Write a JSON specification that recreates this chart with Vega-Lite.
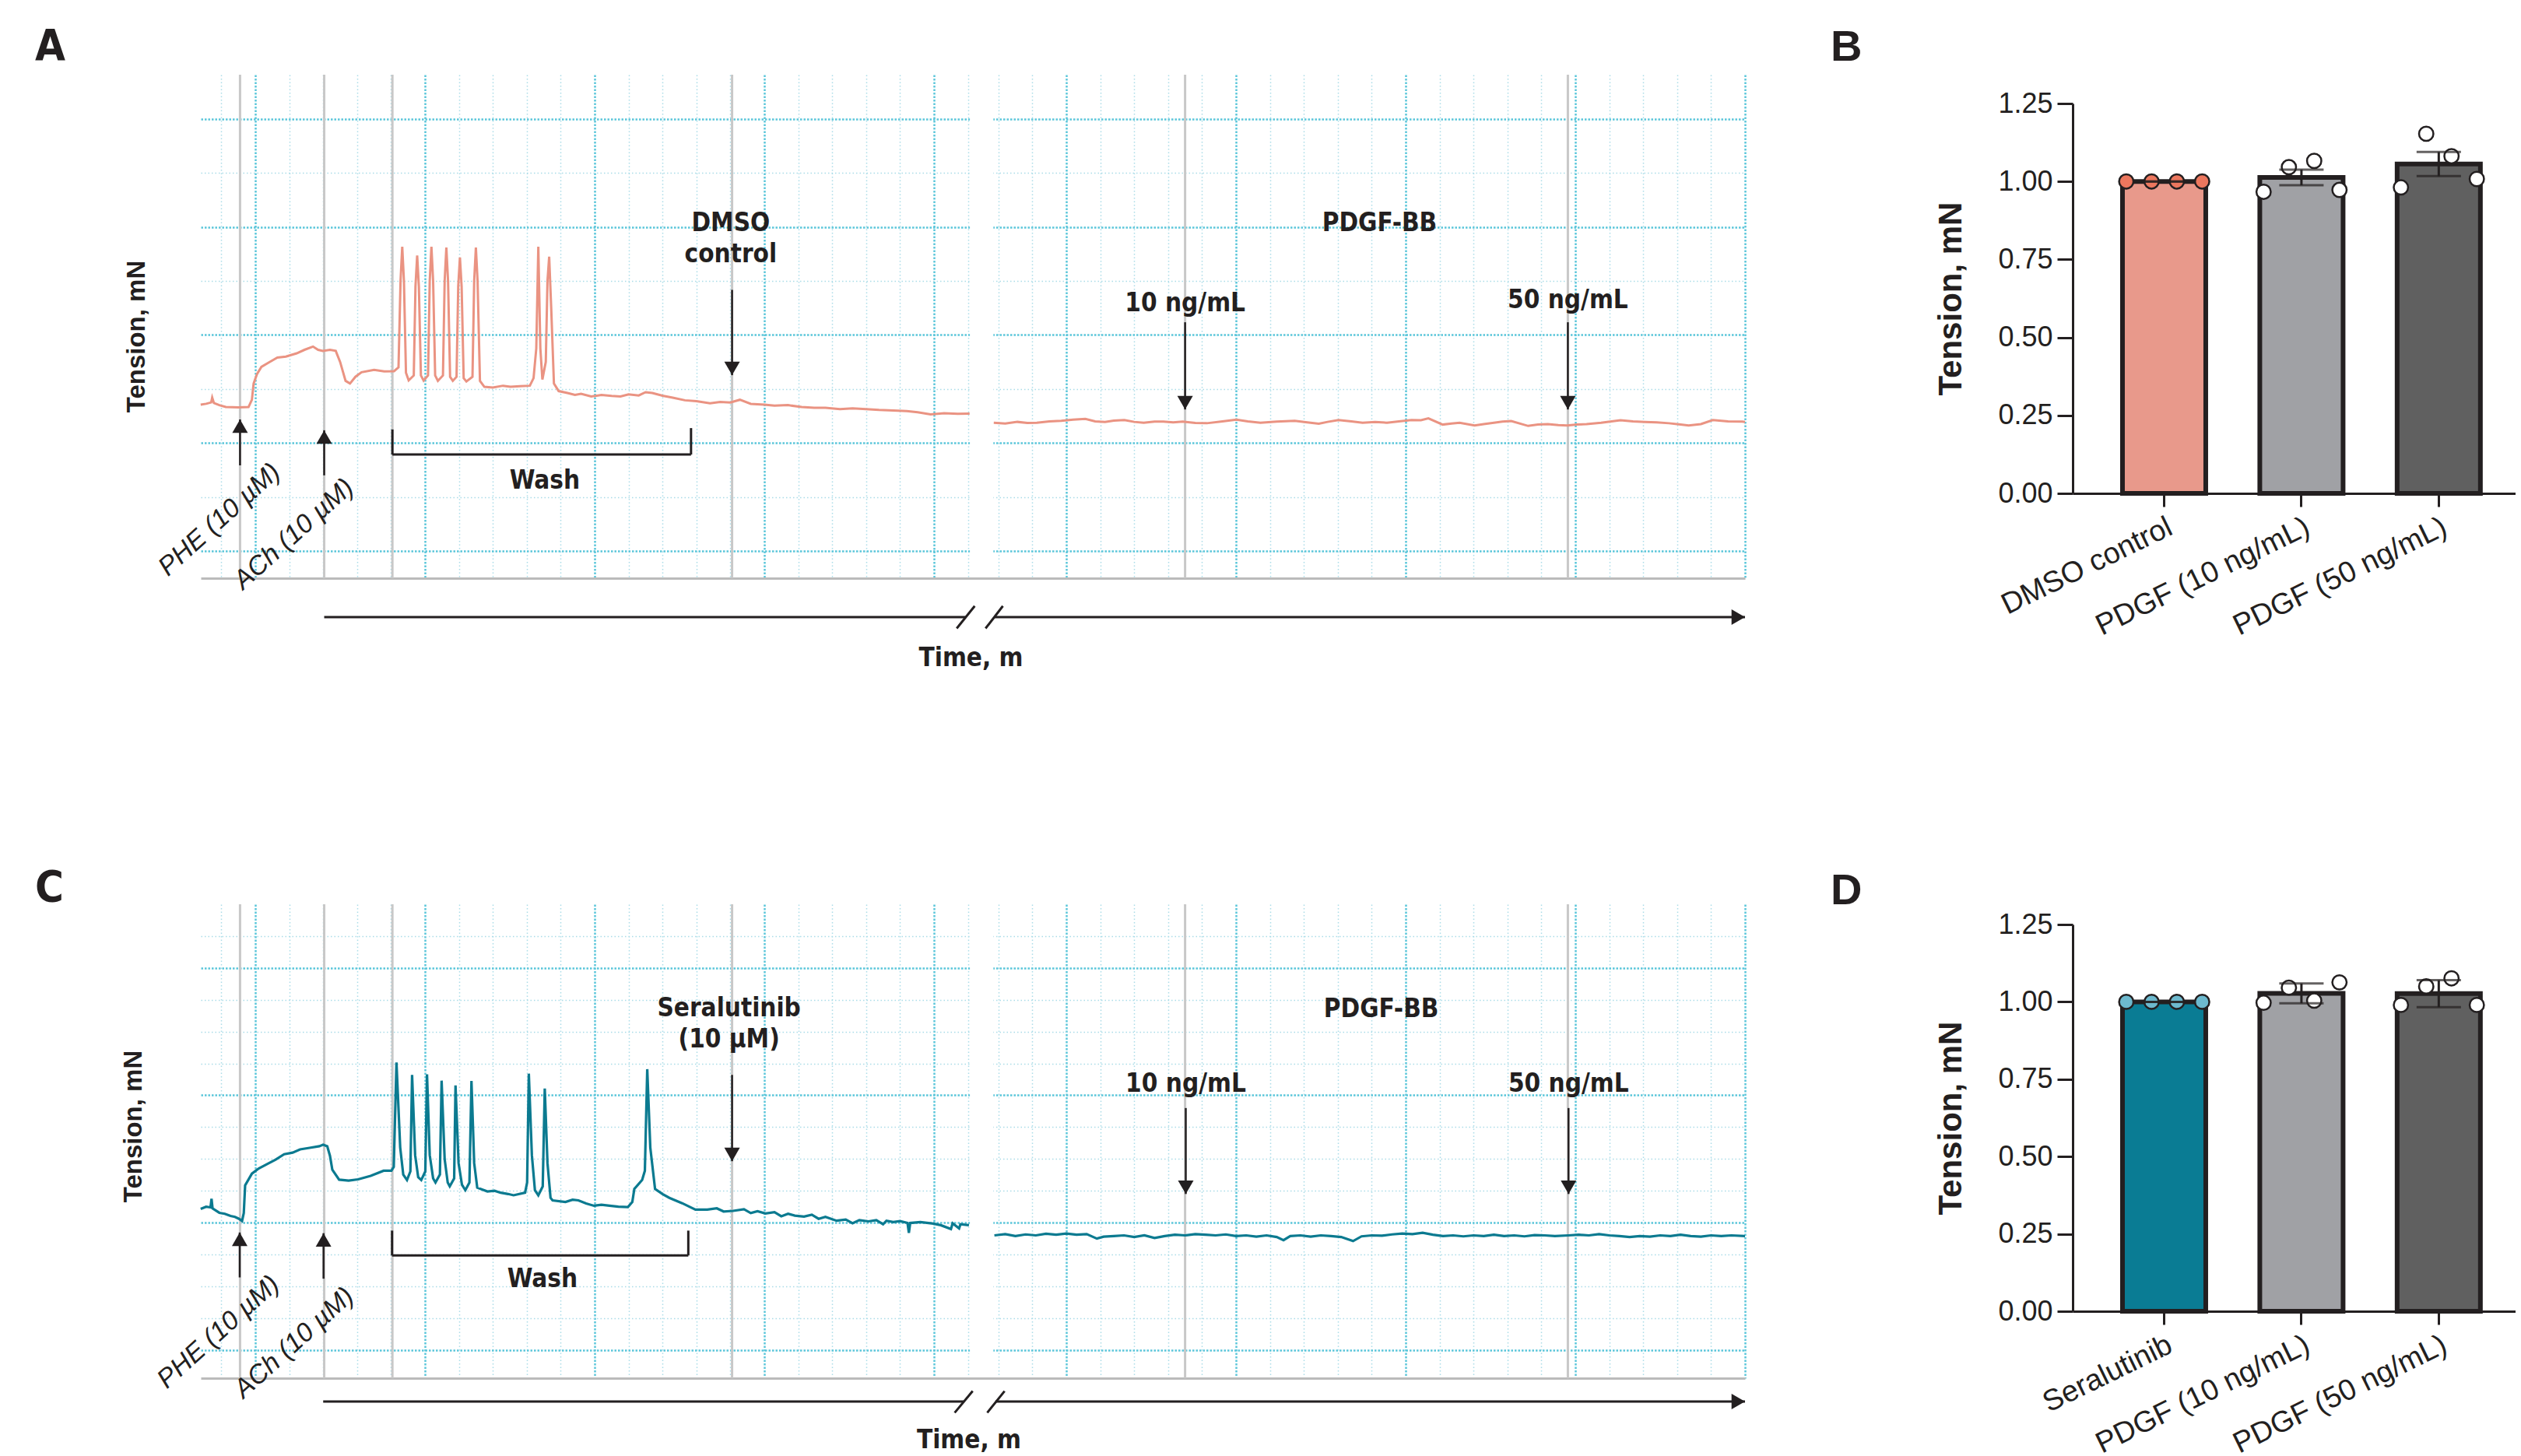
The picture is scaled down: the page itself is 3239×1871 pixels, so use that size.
{
"$schema": "https://vega.github.io/schema/vega-lite/v6.json",
"background": "#ffffff",
"padding": {"left": 45, "top": 31, "right": 0, "bottom": 0},
"config": {"view": {"stroke": null}, "axis": {"domainCap": "butt"}},
"datasets": {
"events": [{"time": -0.45}, {"time": 2.03}, {"time": 4.04}, {"time": 14.05}, {"time": 27.40}, {"time": 38.68}],
"breaks": [{"time": 21.06, "time2": 21.75}],
"traceA": [
{"seg":"L","time":-1.61,"tension":5.42},{"seg":"L","time":-1.45,"tension":5.45},{"seg":"L","time":-1.3,"tension":5.5},{"seg":"L","time":-1.27,"tension":5.68},{"seg":"L","time":-1.22,"tension":5.48},{"seg":"L","time":-1.06,"tension":5.40},{"seg":"L","time":-0.87,"tension":5.33},{"seg":"L","time":-0.5,"tension":5.32},{"seg":"L","time":-0.2,"tension":5.33},{"seg":"L","time":-0.1,"tension":5.6},{"seg":"L","time":-0.05,"tension":6.2},{"seg":"L","time":0.05,"tension":6.55},{"seg":"L","time":0.18,"tension":6.82},{"seg":"L","time":0.4,"tension":6.98},{"seg":"L","time":0.65,"tension":7.16},{"seg":"L","time":0.9,"tension":7.2},{"seg":"L","time":1.22,"tension":7.32},{"seg":"L","time":1.45,"tension":7.45},{"seg":"L","time":1.7,"tension":7.57},{"seg":"L","time":1.85,"tension":7.45},{"seg":"L","time":1.99,"tension":7.41},{"seg":"L","time":2.2,"tension":7.45},{"seg":"L","time":2.37,"tension":7.41},{"seg":"L","time":2.5,"tension":7.0},{"seg":"L","time":2.66,"tension":6.3},{"seg":"L","time":2.79,"tension":6.2},{"seg":"L","time":2.95,"tension":6.45},{"seg":"L","time":3.13,"tension":6.62},{"seg":"L","time":3.5,"tension":6.71},{"seg":"L","time":3.8,"tension":6.65},{"seg":"L","time":4.09,"tension":6.66},
{"seg":"L","time":4.22,"tension":6.8},{"seg":"L","time":4.28,"tension":10.0},{"seg":"L","time":4.33,"tension":11.27},{"seg":"L","time":4.38,"tension":10.0},{"seg":"L","time":4.44,"tension":6.6},{"seg":"L","time":4.52,"tension":6.32},
{"seg":"L","time":4.67,"tension":6.5},{"seg":"L","time":4.72,"tension":9.8},{"seg":"L","time":4.77,"tension":10.94},{"seg":"L","time":4.82,"tension":9.8},{"seg":"L","time":4.88,"tension":6.5},{"seg":"L","time":4.96,"tension":6.31},
{"seg":"L","time":5.09,"tension":6.5},{"seg":"L","time":5.14,"tension":10.0},{"seg":"L","time":5.19,"tension":11.27},{"seg":"L","time":5.24,"tension":10.0},{"seg":"L","time":5.3,"tension":6.5},{"seg":"L","time":5.38,"tension":6.3},
{"seg":"L","time":5.53,"tension":6.5},{"seg":"L","time":5.58,"tension":10.0},{"seg":"L","time":5.63,"tension":11.24},{"seg":"L","time":5.68,"tension":10.0},{"seg":"L","time":5.74,"tension":6.45},{"seg":"L","time":5.82,"tension":6.3},
{"seg":"L","time":5.93,"tension":6.45},{"seg":"L","time":5.98,"tension":9.8},{"seg":"L","time":6.03,"tension":10.87},{"seg":"L","time":6.08,"tension":9.8},{"seg":"L","time":6.14,"tension":6.4},{"seg":"L","time":6.22,"tension":6.28},
{"seg":"L","time":6.4,"tension":6.45},{"seg":"L","time":6.45,"tension":10.0},{"seg":"L","time":6.5,"tension":11.24},{"seg":"L","time":6.55,"tension":10.0},{"seg":"L","time":6.62,"tension":6.3},{"seg":"L","time":6.75,"tension":6.08},
{"seg":"L","time":7.0,"tension":6.05},{"seg":"L","time":7.3,"tension":6.12},{"seg":"L","time":7.52,"tension":6.08},{"seg":"L","time":7.8,"tension":6.1},{"seg":"L","time":8.09,"tension":6.12},{"seg":"L","time":8.2,"tension":6.4},
{"seg":"L","time":8.28,"tension":7.5},{"seg":"L","time":8.34,"tension":11.27},{"seg":"L","time":8.4,"tension":7.5},{"seg":"L","time":8.46,"tension":6.35},{"seg":"L","time":8.56,"tension":7.0},{"seg":"L","time":8.61,"tension":10.0},{"seg":"L","time":8.66,"tension":10.9},{"seg":"L","time":8.72,"tension":9.0},{"seg":"L","time":8.8,"tension":6.2},{"seg":"L","time":8.94,"tension":5.92},
{"seg":"L","time":9.2,"tension":5.85},{"seg":"L","time":9.42,"tension":5.78},{"seg":"L","time":9.6,"tension":5.82},{"seg":"L","time":9.9,"tension":5.72},{"seg":"L","time":10.2,"tension":5.78},{"seg":"L","time":10.5,"tension":5.74},{"seg":"L","time":10.76,"tension":5.72},{"seg":"L","time":11.0,"tension":5.8},{"seg":"L","time":11.3,"tension":5.76},{"seg":"L","time":11.5,"tension":5.88},{"seg":"L","time":11.7,"tension":5.85},{"seg":"L","time":12.0,"tension":5.75},{"seg":"L","time":12.3,"tension":5.68},{"seg":"L","time":12.66,"tension":5.58},{"seg":"L","time":13.0,"tension":5.55},{"seg":"L","time":13.4,"tension":5.47},{"seg":"L","time":13.7,"tension":5.52},{"seg":"L","time":14.0,"tension":5.5},{"seg":"L","time":14.28,"tension":5.6},{"seg":"L","time":14.6,"tension":5.45},{"seg":"L","time":15.0,"tension":5.42},{"seg":"L","time":15.3,"tension":5.38},{"seg":"L","time":15.7,"tension":5.4},{"seg":"L","time":16.1,"tension":5.33},{"seg":"L","time":16.47,"tension":5.3},{"seg":"L","time":16.8,"tension":5.3},{"seg":"L","time":17.23,"tension":5.25},{"seg":"L","time":17.6,"tension":5.28},{"seg":"L","time":18.0,"tension":5.25},{"seg":"L","time":18.38,"tension":5.22},{"seg":"L","time":18.8,"tension":5.2},{"seg":"L","time":19.2,"tension":5.18},{"seg":"L","time":19.52,"tension":5.14},{"seg":"L","time":19.9,"tension":5.06},{"seg":"L","time":20.3,"tension":5.1},{"seg":"L","time":20.7,"tension":5.08},{"seg":"L","time":21.05,"tension":5.09},
{"seg":"R","time":21.76,"tension":4.75},{"seg":"R","time":22.1,"tension":4.72},{"seg":"R","time":22.46,"tension":4.78},{"seg":"R","time":22.75,"tension":4.74},{"seg":"R","time":23.03,"tension":4.75},{"seg":"R","time":23.4,"tension":4.8},{"seg":"R","time":23.75,"tension":4.82},{"seg":"R","time":24.1,"tension":4.86},{"seg":"R","time":24.46,"tension":4.89},{"seg":"R","time":24.75,"tension":4.8},{"seg":"R","time":25.04,"tension":4.78},{"seg":"R","time":25.3,"tension":4.83},{"seg":"R","time":25.61,"tension":4.85},{"seg":"R","time":25.9,"tension":4.78},{"seg":"R","time":26.18,"tension":4.75},{"seg":"R","time":26.5,"tension":4.79},{"seg":"R","time":26.76,"tension":4.79},{"seg":"R","time":27.05,"tension":4.76},{"seg":"R","time":27.33,"tension":4.79},{"seg":"R","time":27.7,"tension":4.74},{"seg":"R","time":28.04,"tension":4.73},{"seg":"R","time":28.5,"tension":4.8},{"seg":"R","time":28.91,"tension":4.86},{"seg":"R","time":29.25,"tension":4.8},{"seg":"R","time":29.62,"tension":4.75},{"seg":"R","time":30.1,"tension":4.79},{"seg":"R","time":30.63,"tension":4.82},{"seg":"R","time":31.0,"tension":4.76},{"seg":"R","time":31.34,"tension":4.71},{"seg":"R","time":31.6,"tension":4.78},{"seg":"R","time":31.92,"tension":4.85},{"seg":"R","time":32.3,"tension":4.8},{"seg":"R","time":32.63,"tension":4.75},{"seg":"R","time":33.0,"tension":4.78},{"seg":"R","time":33.35,"tension":4.75},{"seg":"R","time":33.7,"tension":4.8},{"seg":"R","time":34.07,"tension":4.85},{"seg":"R","time":34.35,"tension":4.84},{"seg":"R","time":34.57,"tension":4.91},{"seg":"R","time":34.99,"tension":4.68},{"seg":"R","time":35.25,"tension":4.72},{"seg":"R","time":35.49,"tension":4.75},{"seg":"R","time":35.93,"tension":4.65},{"seg":"R","time":36.2,"tension":4.7},{"seg":"R","time":36.5,"tension":4.75},{"seg":"R","time":36.75,"tension":4.79},{"seg":"R","time":37.01,"tension":4.81},{"seg":"R","time":37.51,"tension":4.63},{"seg":"R","time":37.8,"tension":4.68},{"seg":"R","time":38.09,"tension":4.7},{"seg":"R","time":38.4,"tension":4.66},{"seg":"R","time":38.66,"tension":4.65},{"seg":"R","time":38.95,"tension":4.68},{"seg":"R","time":39.23,"tension":4.7},{"seg":"R","time":39.66,"tension":4.75},{"seg":"R","time":40.23,"tension":4.84},{"seg":"R","time":40.6,"tension":4.8},{"seg":"R","time":40.95,"tension":4.78},{"seg":"R","time":41.3,"tension":4.76},{"seg":"R","time":41.66,"tension":4.73},{"seg":"R","time":42.0,"tension":4.68},{"seg":"R","time":42.24,"tension":4.65},{"seg":"R","time":42.6,"tension":4.7},{"seg":"R","time":42.95,"tension":4.85},{"seg":"R","time":43.4,"tension":4.8},{"seg":"R","time":43.82,"tension":4.79},{"seg":"R","time":43.9,"tension":4.78}
],
"traceC": [
{"seg":"L","time":-1.61,"tension":4.43},{"seg":"L","time":-1.45,"tension":4.5},{"seg":"L","time":-1.32,"tension":4.48},{"seg":"L","time":-1.29,"tension":4.75},{"seg":"L","time":-1.26,"tension":4.45},{"seg":"L","time":-1.06,"tension":4.31},{"seg":"L","time":-0.9,"tension":4.28},{"seg":"L","time":-0.73,"tension":4.21},{"seg":"L","time":-0.6,"tension":4.18},{"seg":"L","time":-0.48,"tension":4.12},{"seg":"L","time":-0.39,"tension":4.05},{"seg":"L","time":-0.34,"tension":4.3},{"seg":"L","time":-0.3,"tension":5.17},{"seg":"L","time":-0.1,"tension":5.54},{"seg":"L","time":0.1,"tension":5.7},{"seg":"L","time":0.37,"tension":5.85},{"seg":"L","time":0.6,"tension":5.98},{"seg":"L","time":0.85,"tension":6.15},{"seg":"L","time":1.1,"tension":6.2},{"seg":"L","time":1.32,"tension":6.3},{"seg":"L","time":1.6,"tension":6.35},{"seg":"L","time":1.89,"tension":6.4},{"seg":"L","time":2.0,"tension":6.45},{"seg":"L","time":2.12,"tension":6.4},{"seg":"L","time":2.2,"tension":6.1},{"seg":"L","time":2.27,"tension":5.66},{"seg":"L","time":2.47,"tension":5.35},{"seg":"L","time":2.75,"tension":5.32},{"seg":"L","time":3.03,"tension":5.36},{"seg":"L","time":3.4,"tension":5.47},{"seg":"L","time":3.78,"tension":5.63},{"seg":"L","time":4.01,"tension":5.63},
{"seg":"L","time":4.08,"tension":5.75},{"seg":"L","time":4.16,"tension":9.03},{"seg":"L","time":4.27,"tension":6.36},{"seg":"L","time":4.36,"tension":5.51},{"seg":"L","time":4.47,"tension":5.34},
{"seg":"L","time":4.57,"tension":5.61},{"seg":"L","time":4.62,"tension":8.64},{"seg":"L","time":4.71,"tension":6.12},{"seg":"L","time":4.8,"tension":5.43},{"seg":"L","time":4.89,"tension":5.34},
{"seg":"L","time":5.01,"tension":5.61},{"seg":"L","time":5.06,"tension":8.66},{"seg":"L","time":5.14,"tension":6.12},{"seg":"L","time":5.24,"tension":5.39},{"seg":"L","time":5.31,"tension":5.26},
{"seg":"L","time":5.44,"tension":5.51},{"seg":"L","time":5.49,"tension":8.46},{"seg":"L","time":5.58,"tension":5.99},{"seg":"L","time":5.67,"tension":5.26},{"seg":"L","time":5.73,"tension":5.14},
{"seg":"L","time":5.86,"tension":5.39},{"seg":"L","time":5.9,"tension":8.31},{"seg":"L","time":5.99,"tension":5.87},{"seg":"L","time":6.09,"tension":5.19},{"seg":"L","time":6.19,"tension":5.02},
{"seg":"L","time":6.31,"tension":5.26},{"seg":"L","time":6.37,"tension":8.45},{"seg":"L","time":6.45,"tension":5.87},{"seg":"L","time":6.54,"tension":5.1},
{"seg":"L","time":6.84,"tension":4.98},{"seg":"L","time":7.05,"tension":5.0},{"seg":"L","time":7.23,"tension":4.94},{"seg":"L","time":7.45,"tension":4.9},{"seg":"L","time":7.61,"tension":4.86},{"seg":"L","time":7.95,"tension":4.94},
{"seg":"L","time":8.01,"tension":5.26},{"seg":"L","time":8.06,"tension":8.68},{"seg":"L","time":8.15,"tension":6.12},{"seg":"L","time":8.24,"tension":5.02},{"seg":"L","time":8.34,"tension":4.86},
{"seg":"L","time":8.47,"tension":5.14},{"seg":"L","time":8.53,"tension":8.21},{"seg":"L","time":8.61,"tension":5.87},{"seg":"L","time":8.7,"tension":4.78},{"seg":"L","time":8.76,"tension":4.7},
{"seg":"L","time":9.14,"tension":4.65},{"seg":"L","time":9.35,"tension":4.72},{"seg":"L","time":9.52,"tension":4.7},{"seg":"L","time":9.75,"tension":4.6},{"seg":"L","time":9.98,"tension":4.53},{"seg":"L","time":10.2,"tension":4.56},{"seg":"L","time":10.44,"tension":4.53},{"seg":"L","time":10.7,"tension":4.5},{"seg":"L","time":10.98,"tension":4.49},
{"seg":"L","time":11.11,"tension":4.65},{"seg":"L","time":11.17,"tension":5.06},{"seg":"L","time":11.4,"tension":5.34},{"seg":"L","time":11.48,"tension":5.63},{"seg":"L","time":11.55,"tension":8.82},{"seg":"L","time":11.64,"tension":6.36},{"seg":"L","time":11.78,"tension":5.06},{"seg":"L","time":12.0,"tension":4.9},{"seg":"L","time":12.2,"tension":4.78},{"seg":"L","time":12.58,"tension":4.61},{"seg":"L","time":12.97,"tension":4.41},
{"seg":"L","time":13.32,"tension":4.41},{"seg":"L","time":13.6,"tension":4.45},{"seg":"L","time":13.8,"tension":4.35},{"seg":"L","time":14.08,"tension":4.37},{"seg":"L","time":14.4,"tension":4.42},{"seg":"L","time":14.6,"tension":4.3},{"seg":"L","time":14.8,"tension":4.36},{"seg":"L","time":15.03,"tension":4.29},{"seg":"L","time":15.3,"tension":4.33},{"seg":"L","time":15.5,"tension":4.2},{"seg":"L","time":15.7,"tension":4.28},{"seg":"L","time":15.9,"tension":4.22},{"seg":"L","time":16.17,"tension":4.19},{"seg":"L","time":16.4,"tension":4.25},{"seg":"L","time":16.6,"tension":4.12},{"seg":"L","time":16.8,"tension":4.18},{"seg":"L","time":17.13,"tension":4.06},{"seg":"L","time":17.4,"tension":4.1},{"seg":"L","time":17.6,"tension":3.98},{"seg":"L","time":17.8,"tension":4.08},{"seg":"L","time":18.07,"tension":4.04},{"seg":"L","time":18.3,"tension":4.08},{"seg":"L","time":18.5,"tension":3.95},{"seg":"L","time":18.6,"tension":4.06},{"seg":"L","time":18.8,"tension":4.02},{"seg":"L","time":19.0,"tension":4.05},{"seg":"L","time":19.22,"tension":3.99},{"seg":"L","time":19.26,"tension":3.68},{"seg":"L","time":19.3,"tension":3.99},{"seg":"L","time":19.6,"tension":4.02},{"seg":"L","time":19.98,"tension":3.97},{"seg":"L","time":20.2,"tension":3.92},{"seg":"L","time":20.5,"tension":3.8},{"seg":"L","time":20.55,"tension":3.98},{"seg":"L","time":20.74,"tension":3.82},{"seg":"L","time":20.78,"tension":3.95},{"seg":"L","time":21.03,"tension":3.92},
{"seg":"R","time":21.78,"tension":3.6},{"seg":"R","time":22.1,"tension":3.64},{"seg":"R","time":22.4,"tension":3.58},{"seg":"R","time":22.7,"tension":3.63},{"seg":"R","time":23.0,"tension":3.6},{"seg":"R","time":23.3,"tension":3.65},{"seg":"R","time":23.6,"tension":3.62},{"seg":"R","time":23.9,"tension":3.66},{"seg":"R","time":24.2,"tension":3.62},{"seg":"R","time":24.5,"tension":3.64},{"seg":"R","time":24.8,"tension":3.5},{"seg":"R","time":25.0,"tension":3.56},{"seg":"R","time":25.3,"tension":3.58},{"seg":"R","time":25.6,"tension":3.6},{"seg":"R","time":25.9,"tension":3.55},{"seg":"R","time":26.2,"tension":3.6},{"seg":"R","time":26.5,"tension":3.52},{"seg":"R","time":26.8,"tension":3.58},{"seg":"R","time":27.1,"tension":3.62},{"seg":"R","time":27.4,"tension":3.6},{"seg":"R","time":27.7,"tension":3.64},{"seg":"R","time":28.0,"tension":3.62},{"seg":"R","time":28.3,"tension":3.6},{"seg":"R","time":28.6,"tension":3.63},{"seg":"R","time":28.9,"tension":3.58},{"seg":"R","time":29.2,"tension":3.6},{"seg":"R","time":29.5,"tension":3.56},{"seg":"R","time":29.8,"tension":3.6},{"seg":"R","time":30.1,"tension":3.55},{"seg":"R","time":30.3,"tension":3.45},{"seg":"R","time":30.5,"tension":3.58},{"seg":"R","time":30.8,"tension":3.6},{"seg":"R","time":31.1,"tension":3.56},{"seg":"R","time":31.4,"tension":3.6},{"seg":"R","time":31.7,"tension":3.58},{"seg":"R","time":32.0,"tension":3.55},{"seg":"R","time":32.35,"tension":3.42},{"seg":"R","time":32.6,"tension":3.57},{"seg":"R","time":32.9,"tension":3.6},{"seg":"R","time":33.2,"tension":3.59},{"seg":"R","time":33.5,"tension":3.63},{"seg":"R","time":33.8,"tension":3.66},{"seg":"R","time":34.1,"tension":3.64},{"seg":"R","time":34.4,"tension":3.68},{"seg":"R","time":34.7,"tension":3.62},{"seg":"R","time":35.0,"tension":3.58},{"seg":"R","time":35.3,"tension":3.6},{"seg":"R","time":35.6,"tension":3.57},{"seg":"R","time":35.9,"tension":3.6},{"seg":"R","time":36.2,"tension":3.58},{"seg":"R","time":36.5,"tension":3.62},{"seg":"R","time":36.8,"tension":3.58},{"seg":"R","time":37.1,"tension":3.6},{"seg":"R","time":37.4,"tension":3.57},{"seg":"R","time":37.7,"tension":3.61},{"seg":"R","time":38.0,"tension":3.6},{"seg":"R","time":38.3,"tension":3.58},{"seg":"R","time":38.7,"tension":3.6},{"seg":"R","time":39.0,"tension":3.62},{"seg":"R","time":39.3,"tension":3.6},{"seg":"R","time":39.6,"tension":3.64},{"seg":"R","time":39.9,"tension":3.6},{"seg":"R","time":40.2,"tension":3.58},{"seg":"R","time":40.5,"tension":3.55},{"seg":"R","time":40.8,"tension":3.58},{"seg":"R","time":41.1,"tension":3.56},{"seg":"R","time":41.4,"tension":3.6},{"seg":"R","time":41.7,"tension":3.58},{"seg":"R","time":42.0,"tension":3.62},{"seg":"R","time":42.3,"tension":3.58},{"seg":"R","time":42.6,"tension":3.56},{"seg":"R","time":42.9,"tension":3.6},{"seg":"R","time":43.2,"tension":3.58},{"seg":"R","time":43.5,"tension":3.6},{"seg":"R","time":43.9,"tension":3.58}
],
"arrowsA": [{"time": -0.45, "tail": 3.17, "tip": 4.87, "dir": "up"}, {"time": 2.03, "tail": 2.80, "tip": 4.47, "dir": "up"}, {"time": 14.05, "tail": 9.67, "tip": 6.51, "dir": "down"}, {"time": 27.40, "tail": 8.47, "tip": 5.24, "dir": "down"}, {"time": 38.68, "tail": 8.47, "tip": 5.24, "dir": "down"}],
"arrowsC": [{"time": -0.46, "tail": 2.28, "tip": 3.69, "dir": "up"}, {"time": 2.01, "tail": 2.24, "tip": 3.67, "dir": "up"}, {"time": 14.05, "tail": 8.64, "tip": 5.93, "dir": "down"}, {"time": 27.42, "tail": 7.6, "tip": 4.9, "dir": "down"}, {"time": 38.70, "tail": 7.6, "tip": 4.9, "dir": "down"}],
"labelsA": [{"time": 14.01, "tension": 11.85, "label": "DMSO\ncontrol"}, {"time": 8.53, "tension": 2.31, "label": "Wash"}, {"time": 21.09, "tension": -4.27, "label": "Time, m"}, {"time": 33.13, "tension": 11.84, "label": "PDGF-BB"}, {"time": 27.40, "tension": 8.88, "label": "10 ng/mL"}, {"time": 38.68, "tension": 8.99, "label": "50 ng/mL"}],
"labelsC": [{"time": 13.96, "tension": 10.48, "label": "Seralutinib\n(10 µM)"}, {"time": 8.46, "tension": 1.97, "label": "Wash"}, {"time": 21.03, "tension": -3.08, "label": "Time, m"}, {"time": 33.18, "tension": 10.45, "label": "PDGF-BB"}, {"time": 27.42, "tension": 8.1, "label": "10 ng/mL"}, {"time": 38.70, "tension": 8.1, "label": "50 ng/mL"}],
"drugsA": [{"time": 0.63, "tension": 3.05, "label": "PHE (10 µM)"}, {"time": 2.79, "tension": 2.48, "label": "ACh (10 µM)"}],
"drugsC": [{"time": 0.6, "tension": 2.17, "label": "PHE (10 µM)"}, {"time": 2.8, "tension": 1.8, "label": "ACh (10 µM)"}],
"segmentsA": [{"time": 4.04, "time2": 12.84, "tension": 3.57, "tension2": 3.57}, {"time": 4.04, "time2": 4.04, "tension": 3.57, "tension2": 4.5}, {"time": 12.84, "time2": 12.84, "tension": 3.57, "tension2": 4.55}, {"time": 2.03, "time2": 20.93, "tension": -2.45, "tension2": -2.45}, {"time": 20.67, "time2": 21.2, "tension": -2.87, "tension2": -2.04}, {"time": 21.52, "time2": 22.03, "tension": -2.87, "tension2": -2.04}, {"time": 21.78, "time2": 43.9, "tension": -2.45, "tension2": -2.45}],
"segmentsC": [{"time": 4.03, "time2": 12.76, "tension": 2.97, "tension2": 2.97}, {"time": 4.03, "time2": 4.03, "tension": 2.97, "tension2": 3.75}, {"time": 12.76, "time2": 12.76, "tension": 2.97, "tension2": 3.75}, {"time": 2.0, "time2": 20.87, "tension": -1.62, "tension2": -1.62}, {"time": 20.61, "time2": 21.14, "tension": -1.97, "tension2": -1.29}, {"time": 21.57, "time2": 22.08, "tension": -1.97, "tension2": -1.29}, {"time": 21.81, "time2": 43.9, "tension": -1.62, "tension2": -1.62}],
"headA": [{"time": 43.9, "tension": -2.45}],
"headC": [{"time": 43.9, "tension": -1.62}],
"barsB": [
{"group": "DMSO control", "rep": "1", "tension": 1.0}, {"group": "DMSO control", "rep": "2", "tension": 1.0}, {"group": "DMSO control", "rep": "3", "tension": 1.0}, {"group": "DMSO control", "rep": "4", "tension": 1.0},
{"group": "PDGF (10 ng/mL)", "rep": "1", "tension": 0.967}, {"group": "PDGF (10 ng/mL)", "rep": "2", "tension": 1.046}, {"group": "PDGF (10 ng/mL)", "rep": "3", "tension": 1.066}, {"group": "PDGF (10 ng/mL)", "rep": "4", "tension": 0.973},
{"group": "PDGF (50 ng/mL)", "rep": "1", "tension": 0.981}, {"group": "PDGF (50 ng/mL)", "rep": "2", "tension": 1.153}, {"group": "PDGF (50 ng/mL)", "rep": "3", "tension": 1.081}, {"group": "PDGF (50 ng/mL)", "rep": "4", "tension": 1.008}
],
"barsD": [
{"group": "Seralutinib", "rep": "1", "tension": 1.0}, {"group": "Seralutinib", "rep": "2", "tension": 1.0}, {"group": "Seralutinib", "rep": "3", "tension": 1.0}, {"group": "Seralutinib", "rep": "4", "tension": 1.0},
{"group": "PDGF (10 ng/mL)", "rep": "1", "tension": 0.997}, {"group": "PDGF (10 ng/mL)", "rep": "2", "tension": 1.046}, {"group": "PDGF (10 ng/mL)", "rep": "3", "tension": 1.004}, {"group": "PDGF (10 ng/mL)", "rep": "4", "tension": 1.063},
{"group": "PDGF (50 ng/mL)", "rep": "1", "tension": 0.99}, {"group": "PDGF (50 ng/mL)", "rep": "2", "tension": 1.05}, {"group": "PDGF (50 ng/mL)", "rep": "3", "tension": 1.076}, {"group": "PDGF (50 ng/mL)", "rep": "4", "tension": 0.99}
]
},
"hconcat": [
{
"vconcat": [
{
"width": 1984, "height": 647,
"title": {"text": "A", "anchor": "start", "frame": "group", "font": "Liberation Sans Narrow, DejaVu Sans Condensed, sans-serif", "fontSize": 56, "fontWeight": "bold", "color": "#231F20", "dx": -213, "dy": 38, "offset": 0, "baseline": "alphabetic"},
"layer": [
{"data": {"name": "events"}, "mark": {"type": "rule", "color": "#C8C8C8", "strokeWidth": 3},
 "encoding": {"x": {"field": "time", "type": "quantitative", "scale": {"domain": [-1.606, 43.9], "nice": false, "zero": false},
  "axis": {"values": [-1,0,1,2,3,4,5,6,7,8,9,10,11,12,13,14,15,16,17,18,19,20,21,21.9,22.9,23.9,24.9,25.9,26.9,27.9,28.9,29.9,30.9,31.9,32.9,33.9,34.9,35.9,36.9,37.9,38.9,39.9,40.9,41.9,42.9,43.9],
   "grid": true,
   "gridColor": {"condition": {"test": "indexof([0,5,10,15,20,23.9,28.9,33.9,38.9,43.9], datum.value) >= 0", "value": "#5BC6DA"}, "value": "#AADCE8"},
   "gridDash": {"condition": {"test": "indexof([0,5,10,15,20,23.9,28.9,33.9,38.9,43.9], datum.value) >= 0", "value": [2.5, 2]}, "value": [1.5, 3]},
   "gridWidth": {"condition": {"test": "indexof([0,5,10,15,20,23.9,28.9,33.9,38.9,43.9], datum.value) >= 0", "value": 2.5}, "value": 1.5},
   "labels": false, "ticks": false, "domain": true, "domainColor": "#BBBBBB", "domainWidth": 3, "title": null}}}},
{"data": {"name": "traceA"}, "mark": {"type": "line", "color": "#EA9382", "strokeWidth": 3},
 "encoding": {"x": {"field": "time", "type": "quantitative"},
  "y": {"field": "tension", "type": "quantitative", "scale": {"domain": [-1.01, 17.64], "nice": false, "zero": false},
   "axis": {"values": [0,1,2,3,4,5,6,7,8,9,10,11,12,13,14,15,16,17], "grid": true,
    "gridColor": {"condition": {"test": "datum.value % 4 === 0", "value": "#5BC6DA"}, "value": "#AADCE8"},
    "gridDash": {"condition": {"test": "datum.value % 4 === 0", "value": [2.5, 2]}, "value": [1.5, 3]},
    "gridWidth": {"condition": {"test": "datum.value % 4 === 0", "value": 2.5}, "value": 1.5},
    "labels": false, "ticks": false, "domain": false,
    "title": "Tension, mN", "titleFont": "Liberation Sans, Arial, sans-serif", "titleFontSize": 33, "titleFontWeight": "bold", "titleColor": "#231F20", "titlePadding": 66, "titleY": 336}},
  "detail": {"field": "seg"}}},
{"data": {"name": "breaks"}, "mark": {"type": "rect", "color": "#ffffff"},
 "encoding": {"x": {"field": "time", "type": "quantitative"}, "x2": {"field": "time2"}, "y": {"datum": -0.95}, "y2": {"datum": 17.64}}},
{"data": {"name": "arrowsA"}, "mark": {"type": "rule", "color": "#231F20", "strokeWidth": 2.5},
 "encoding": {"x": {"field": "time", "type": "quantitative"}, "y": {"field": "tail", "type": "quantitative"}, "y2": {"field": "tip"}}},
{"data": {"name": "arrowsA"}, "transform": [{"filter": "datum.dir === 'up'"}], "mark": {"type": "point", "shape": "triangle-up", "filled": true, "size": 400, "color": "#231F20", "opacity": 1, "yOffset": 8.66},
 "encoding": {"x": {"field": "time", "type": "quantitative"}, "y": {"field": "tip", "type": "quantitative"}}},
{"data": {"name": "arrowsA"}, "transform": [{"filter": "datum.dir === 'down'"}], "mark": {"type": "point", "shape": "triangle-down", "filled": true, "size": 400, "color": "#231F20", "opacity": 1, "yOffset": -8.66},
 "encoding": {"x": {"field": "time", "type": "quantitative"}, "y": {"field": "tip", "type": "quantitative"}}},
{"data": {"name": "segmentsA"}, "mark": {"type": "rule", "color": "#231F20", "strokeWidth": 3},
 "encoding": {"x": {"field": "time", "type": "quantitative"}, "x2": {"field": "time2"}, "y": {"field": "tension", "type": "quantitative"}, "y2": {"field": "tension2"}}},
{"data": {"name": "headA"}, "mark": {"type": "point", "shape": "triangle-right", "filled": true, "size": 400, "color": "#231F20", "opacity": 1, "xOffset": -8.66},
 "encoding": {"x": {"field": "time", "type": "quantitative"}, "y": {"field": "tension", "type": "quantitative"}}},
{"data": {"name": "labelsA"}, "mark": {"type": "text", "font": "Liberation Sans Narrow, DejaVu Sans Condensed, sans-serif", "fontSize": 33, "fontWeight": "bold", "color": "#231F20", "align": "center", "baseline": "alphabetic", "lineBreak": "\n", "lineHeight": 40},
 "encoding": {"x": {"field": "time", "type": "quantitative"}, "y": {"field": "tension", "type": "quantitative"}, "text": {"field": "label"}}},
{"data": {"name": "drugsA"}, "mark": {"type": "text", "font": "Liberation Sans, Arial, sans-serif", "fontStyle": "italic", "fontSize": 34, "color": "#231F20", "align": "right", "baseline": "middle", "angle": -42},
 "encoding": {"x": {"field": "time", "type": "quantitative"}, "y": {"field": "tension", "type": "quantitative"}, "text": {"field": "label"}}}
]
},
{
"width": 1984, "height": 609,
"title": {"text": "C", "anchor": "start", "frame": "group", "font": "Liberation Sans Narrow, DejaVu Sans Condensed, sans-serif", "fontSize": 56, "fontWeight": "bold", "color": "#231F20", "dx": -213, "dy": 53, "offset": 0, "baseline": "alphabetic"},
"layer": [
{"data": {"name": "events"}, "mark": {"type": "rule", "color": "#C8C8C8", "strokeWidth": 3},
 "encoding": {"x": {"field": "time", "type": "quantitative", "scale": {"domain": [-1.606, 43.9], "nice": false, "zero": false},
  "axis": {"values": [-1,0,1,2,3,4,5,6,7,8,9,10,11,12,13,14,15,16,17,18,19,20,21,21.9,22.9,23.9,24.9,25.9,26.9,27.9,28.9,29.9,30.9,31.9,32.9,33.9,34.9,35.9,36.9,37.9,38.9,39.9,40.9,41.9,42.9,43.9],
   "grid": true,
   "gridColor": {"condition": {"test": "indexof([0,5,10,15,20,23.9,28.9,33.9,38.9,43.9], datum.value) >= 0", "value": "#5BC6DA"}, "value": "#AADCE8"},
   "gridDash": {"condition": {"test": "indexof([0,5,10,15,20,23.9,28.9,33.9,38.9,43.9], datum.value) >= 0", "value": [2.5, 2]}, "value": [1.5, 3]},
   "gridWidth": {"condition": {"test": "indexof([0,5,10,15,20,23.9,28.9,33.9,38.9,43.9], datum.value) >= 0", "value": 2.5}, "value": 1.5},
   "labels": false, "ticks": false, "domain": true, "domainColor": "#BBBBBB", "domainWidth": 3, "title": null}}}},
{"data": {"name": "traceC"}, "mark": {"type": "line", "color": "#0B7A90", "strokeWidth": 3.2},
 "encoding": {"x": {"field": "time", "type": "quantitative"},
  "y": {"field": "tension", "type": "quantitative", "scale": {"domain": [-0.885, 14.0], "nice": false, "zero": false},
   "axis": {"values": [0,1,2,3,4,5,6,7,8,9,10,11,12,13], "grid": true,
    "gridColor": {"condition": {"test": "datum.value % 4 === 0", "value": "#5BC6DA"}, "value": "#AADCE8"},
    "gridDash": {"condition": {"test": "datum.value % 4 === 0", "value": [2.5, 2]}, "value": [1.5, 3]},
    "gridWidth": {"condition": {"test": "datum.value % 4 === 0", "value": 2.5}, "value": 1.5},
    "labels": false, "ticks": false, "domain": false,
    "title": "Tension, mN", "titleFont": "Liberation Sans, Arial, sans-serif", "titleFontSize": 33, "titleFontWeight": "bold", "titleColor": "#231F20", "titlePadding": 70, "titleY": 285}},
  "detail": {"field": "seg"}}},
{"data": {"name": "breaks"}, "mark": {"type": "rect", "color": "#ffffff"},
 "encoding": {"x": {"field": "time", "type": "quantitative"}, "x2": {"field": "time2"}, "y": {"datum": -0.83}, "y2": {"datum": 14.0}}},
{"data": {"name": "arrowsC"}, "mark": {"type": "rule", "color": "#231F20", "strokeWidth": 2.5},
 "encoding": {"x": {"field": "time", "type": "quantitative"}, "y": {"field": "tail", "type": "quantitative"}, "y2": {"field": "tip"}}},
{"data": {"name": "arrowsC"}, "transform": [{"filter": "datum.dir === 'up'"}], "mark": {"type": "point", "shape": "triangle-up", "filled": true, "size": 400, "color": "#231F20", "opacity": 1, "yOffset": 8.66},
 "encoding": {"x": {"field": "time", "type": "quantitative"}, "y": {"field": "tip", "type": "quantitative"}}},
{"data": {"name": "arrowsC"}, "transform": [{"filter": "datum.dir === 'down'"}], "mark": {"type": "point", "shape": "triangle-down", "filled": true, "size": 400, "color": "#231F20", "opacity": 1, "yOffset": -8.66},
 "encoding": {"x": {"field": "time", "type": "quantitative"}, "y": {"field": "tip", "type": "quantitative"}}},
{"data": {"name": "segmentsC"}, "mark": {"type": "rule", "color": "#231F20", "strokeWidth": 3},
 "encoding": {"x": {"field": "time", "type": "quantitative"}, "x2": {"field": "time2"}, "y": {"field": "tension", "type": "quantitative"}, "y2": {"field": "tension2"}}},
{"data": {"name": "headC"}, "mark": {"type": "point", "shape": "triangle-right", "filled": true, "size": 400, "color": "#231F20", "opacity": 1, "xOffset": -8.66},
 "encoding": {"x": {"field": "time", "type": "quantitative"}, "y": {"field": "tension", "type": "quantitative"}}},
{"data": {"name": "labelsC"}, "mark": {"type": "text", "font": "Liberation Sans Narrow, DejaVu Sans Condensed, sans-serif", "fontSize": 33, "fontWeight": "bold", "color": "#231F20", "align": "center", "baseline": "alphabetic", "lineBreak": "\n", "lineHeight": 40},
 "encoding": {"x": {"field": "time", "type": "quantitative"}, "y": {"field": "tension", "type": "quantitative"}, "text": {"field": "label"}}},
{"data": {"name": "drugsC"}, "mark": {"type": "text", "font": "Liberation Sans, Arial, sans-serif", "fontStyle": "italic", "fontSize": 34, "color": "#231F20", "align": "right", "baseline": "middle", "angle": -42},
 "encoding": {"x": {"field": "time", "type": "quantitative"}, "y": {"field": "tension", "type": "quantitative"}, "text": {"field": "label"}}}
]
}
],
"spacing": 419, "bounds": "flush",
"resolve": {"scale": {"x": "independent", "y": "independent"}}
},
{
"vconcat": [
{
"width": 569, "height": 538,
"title": {"text": "B", "anchor": "start", "frame": "group", "font": "Liberation Sans, Arial, sans-serif", "fontSize": 56, "fontWeight": "bold", "color": "#231F20", "dx": -311, "dy": 38, "offset": 0, "baseline": "alphabetic"},
"data": {"name": "barsB"},
"layer": [
{"mark": {"type": "bar", "stroke": "#231F20", "strokeWidth": 6, "width": 107},
 "encoding": {
  "x": {"field": "group", "type": "nominal", "sort": ["DMSO control", "PDGF (10 ng/mL)", "PDGF (50 ng/mL)"], "scale": {"paddingInner": 0.395, "paddingOuter": 0.31, "align": 0.586},
   "axis": {"title": null, "labelAngle": -26, "labelFont": "Liberation Sans, Arial, sans-serif", "labelFontSize": 38, "labelColor": "#231F20", "labelLimit": 1000, "labelPadding": 7, "tickColor": "#231F20", "tickWidth": 3, "tickSize": 17, "domainColor": "#231F20", "domainWidth": 3}},
  "y": {"aggregate": "mean", "field": "tension", "type": "quantitative", "title": "Tension, mN", "scale": {"domain": [0, 1.25], "nice": false, "range": [538, 37]},
   "axis": {"values": [0, 0.25, 0.5, 0.75, 1, 1.25], "format": ".2f", "grid": false, "domainColor": "#231F20", "domainWidth": 3, "tickColor": "#231F20", "tickWidth": 3, "tickSize": 20, "labelFont": "Liberation Sans, Arial, sans-serif", "labelFontSize": 36, "labelColor": "#231F20", "labelPadding": 6, "title": "Tension, mN", "titleFont": "Liberation Sans, Arial, sans-serif", "titleFontSize": 42, "titleFontWeight": "bold", "titleColor": "#231F20", "titlePadding": 38}},
  "color": {"field": "group", "type": "nominal", "scale": {"domain": ["DMSO control", "PDGF (10 ng/mL)", "PDGF (50 ng/mL)"], "range": ["#E8998B", "#A0A1A5", "#606060"]}, "legend": null}}},
{"mark": {"type": "point", "filled": true, "size": 340, "stroke": "#231F20", "strokeWidth": 2.5, "opacity": 1},
 "encoding": {
  "x": {"field": "group", "type": "nominal", "sort": ["DMSO control", "PDGF (10 ng/mL)", "PDGF (50 ng/mL)"]},
  "xOffset": {"field": "rep", "type": "nominal", "scale": {"range": [-11.5, 118.5]}},
  "y": {"field": "tension", "type": "quantitative", "title": "Tension, mN"},
  "fill": {"field": "group", "type": "nominal", "scale": {"domain": ["DMSO control", "PDGF (10 ng/mL)", "PDGF (50 ng/mL)"], "range": ["#EC775E", "#FFFFFF", "#FFFFFF"]}, "legend": null}}},
{"mark": {"type": "errorbar", "extent": "stderr", "ticks": true, "size": 57, "thickness": 3, "color": "#231F20"},
 "encoding": {
  "x": {"field": "group", "type": "nominal", "sort": ["DMSO control", "PDGF (10 ng/mL)", "PDGF (50 ng/mL)"]},
  "y": {"field": "tension", "type": "quantitative", "title": "Tension, mN"}}}
]
},
{
"width": 569, "height": 497,
"title": {"text": "D", "anchor": "start", "frame": "group", "font": "Liberation Sans, Arial, sans-serif", "fontSize": 56, "fontWeight": "bold", "color": "#231F20", "dx": -311, "dy": 48, "offset": 0, "baseline": "alphabetic"},
"data": {"name": "barsD"},
"layer": [
{"mark": {"type": "bar", "stroke": "#231F20", "strokeWidth": 6, "width": 107},
 "encoding": {
  "x": {"field": "group", "type": "nominal", "sort": ["Seralutinib", "PDGF (10 ng/mL)", "PDGF (50 ng/mL)"], "scale": {"paddingInner": 0.395, "paddingOuter": 0.31, "align": 0.586},
   "axis": {"title": null, "labelAngle": -26, "labelFont": "Liberation Sans, Arial, sans-serif", "labelFontSize": 38, "labelColor": "#231F20", "labelLimit": 1000, "labelPadding": 7, "tickColor": "#231F20", "tickWidth": 3, "tickSize": 17, "domainColor": "#231F20", "domainWidth": 3}},
  "y": {"aggregate": "mean", "field": "tension", "type": "quantitative", "title": "Tension, mN", "scale": {"domain": [0, 1.25], "nice": false},
   "axis": {"values": [0, 0.25, 0.5, 0.75, 1, 1.25], "format": ".2f", "grid": false, "domainColor": "#231F20", "domainWidth": 3, "tickColor": "#231F20", "tickWidth": 3, "tickSize": 20, "labelFont": "Liberation Sans, Arial, sans-serif", "labelFontSize": 36, "labelColor": "#231F20", "labelPadding": 6, "title": "Tension, mN", "titleFont": "Liberation Sans, Arial, sans-serif", "titleFontSize": 42, "titleFontWeight": "bold", "titleColor": "#231F20", "titlePadding": 38}},
  "color": {"field": "group", "type": "nominal", "scale": {"domain": ["Seralutinib", "PDGF (10 ng/mL)", "PDGF (50 ng/mL)"], "range": ["#0A7C94", "#A0A1A5", "#606060"]}, "legend": null}}},
{"mark": {"type": "point", "filled": true, "size": 340, "stroke": "#231F20", "strokeWidth": 2.5, "opacity": 1},
 "encoding": {
  "x": {"field": "group", "type": "nominal", "sort": ["Seralutinib", "PDGF (10 ng/mL)", "PDGF (50 ng/mL)"]},
  "xOffset": {"field": "rep", "type": "nominal", "scale": {"range": [-11.5, 118.5]}},
  "y": {"field": "tension", "type": "quantitative", "title": "Tension, mN"},
  "fill": {"field": "group", "type": "nominal", "scale": {"domain": ["Seralutinib", "PDGF (10 ng/mL)", "PDGF (50 ng/mL)"], "range": ["#6DB9CE", "#FFFFFF", "#FFFFFF"]}, "legend": null}}},
{"mark": {"type": "errorbar", "extent": "stdev", "ticks": true, "size": 57, "thickness": 3, "color": "#231F20"},
 "encoding": {
  "x": {"field": "group", "type": "nominal", "sort": ["Seralutinib", "PDGF (10 ng/mL)", "PDGF (50 ng/mL)"]},
  "y": {"field": "tension", "type": "quantitative", "title": "Tension, mN"}}}
]
}
],
"spacing": 554, "bounds": "flush",
"resolve": {"scale": {"x": "independent", "y": "independent", "color": "independent", "fill": "independent", "xOffset": "independent"}}
}
],
"spacing": 103, "bounds": "full",
"resolve": {"scale": {"x": "independent", "y": "independent", "color": "independent", "fill": "independent", "xOffset": "independent"}}
}
